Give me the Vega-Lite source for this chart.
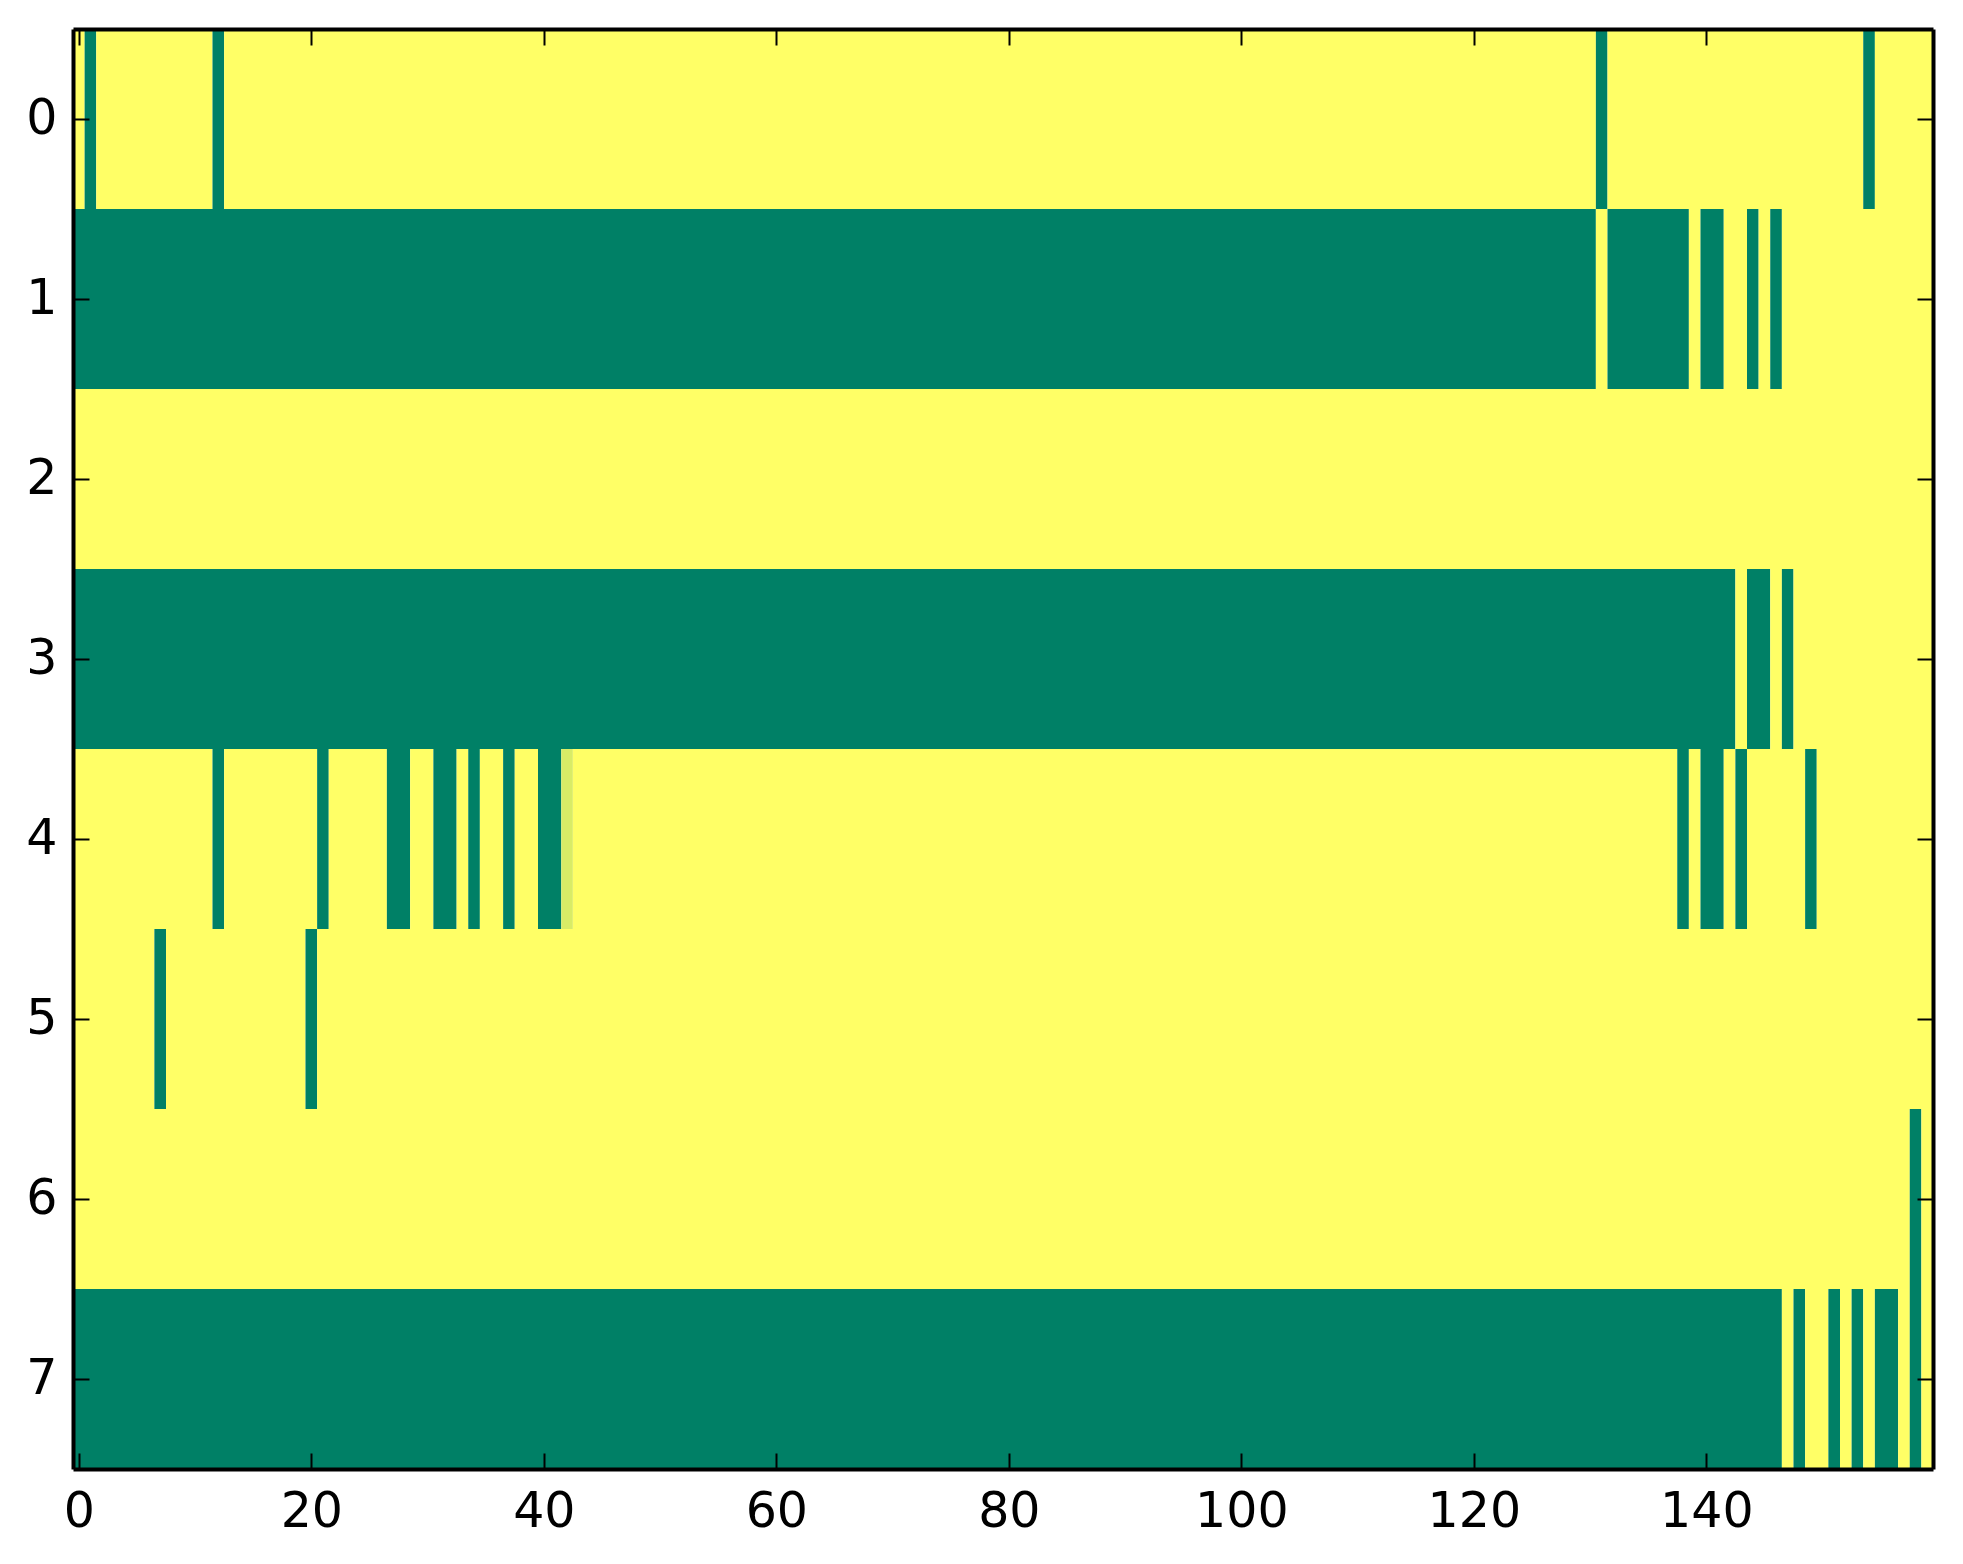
{
  "$schema": "https://vega.github.io/schema/vega-lite/v6.json",
  "width": 1860,
  "height": 1440,
  "autosize": {"type": "none"},
  "padding": {"left": 73, "top": 29, "right": 30, "bottom": 95},
  "background": "white",
  "config": {
    "view": {"stroke": null},
    "axis": {
      "labelFont": "DejaVu Sans",
      "labelFontSize": 49,
      "labelColor": "black",
      "tickColor": "black",
      "tickWidth": 2,
      "tickSize": -16,
      "domainColor": "black",
      "domainWidth": 4,
      "grid": false,
      "title": null
    }
  },
  "data": {
    "values": [
      {"r": 0, "a": -0.5, "b": 0.5, "v": 1},
      {"r": 0, "a": 0.5, "b": 1.5, "v": 0},
      {"r": 0, "a": 1.5, "b": 11.5, "v": 1},
      {"r": 0, "a": 11.5, "b": 12.5, "v": 0},
      {"r": 0, "a": 12.5, "b": 130.5, "v": 1},
      {"r": 0, "a": 130.5, "b": 131.5, "v": 0},
      {"r": 0, "a": 131.5, "b": 153.5, "v": 1},
      {"r": 0, "a": 153.5, "b": 154.5, "v": 0},
      {"r": 0, "a": 154.5, "b": 159.5, "v": 1},

      {"r": 1, "a": -0.5, "b": 130.5, "v": 0},
      {"r": 1, "a": 130.5, "b": 131.5, "v": 1},
      {"r": 1, "a": 131.5, "b": 138.5, "v": 0},
      {"r": 1, "a": 138.5, "b": 139.5, "v": 1},
      {"r": 1, "a": 139.5, "b": 141.5, "v": 0},
      {"r": 1, "a": 141.5, "b": 143.5, "v": 1},
      {"r": 1, "a": 143.5, "b": 144.5, "v": 0},
      {"r": 1, "a": 144.5, "b": 145.5, "v": 1},
      {"r": 1, "a": 145.5, "b": 146.5, "v": 0},
      {"r": 1, "a": 146.5, "b": 159.5, "v": 1},

      {"r": 2, "a": -0.5, "b": 159.5, "v": 1},

      {"r": 3, "a": -0.5, "b": 142.5, "v": 0},
      {"r": 3, "a": 142.5, "b": 143.5, "v": 1},
      {"r": 3, "a": 143.5, "b": 145.5, "v": 0},
      {"r": 3, "a": 145.5, "b": 146.5, "v": 1},
      {"r": 3, "a": 146.5, "b": 147.5, "v": 0},
      {"r": 3, "a": 147.5, "b": 159.5, "v": 1},

      {"r": 4, "a": -0.5, "b": 11.5, "v": 1},
      {"r": 4, "a": 11.5, "b": 12.5, "v": 0},
      {"r": 4, "a": 12.5, "b": 20.5, "v": 1},
      {"r": 4, "a": 20.5, "b": 21.5, "v": 0},
      {"r": 4, "a": 21.5, "b": 26.5, "v": 1},
      {"r": 4, "a": 26.5, "b": 28.5, "v": 0},
      {"r": 4, "a": 28.5, "b": 30.5, "v": 1},
      {"r": 4, "a": 30.5, "b": 32.5, "v": 0},
      {"r": 4, "a": 32.5, "b": 33.5, "v": 1},
      {"r": 4, "a": 33.5, "b": 34.5, "v": 0},
      {"r": 4, "a": 34.5, "b": 36.5, "v": 1},
      {"r": 4, "a": 36.5, "b": 37.5, "v": 0},
      {"r": 4, "a": 37.5, "b": 39.5, "v": 1},
      {"r": 4, "a": 39.5, "b": 41.5, "v": 0},
      {"r": 4, "a": 41.5, "b": 42.5, "v": 0.85},
      {"r": 4, "a": 42.5, "b": 137.5, "v": 1},
      {"r": 4, "a": 137.5, "b": 138.5, "v": 0},
      {"r": 4, "a": 138.5, "b": 139.5, "v": 1},
      {"r": 4, "a": 139.5, "b": 141.5, "v": 0},
      {"r": 4, "a": 141.5, "b": 142.5, "v": 1},
      {"r": 4, "a": 142.5, "b": 143.5, "v": 0},
      {"r": 4, "a": 143.5, "b": 148.5, "v": 1},
      {"r": 4, "a": 148.5, "b": 149.5, "v": 0},
      {"r": 4, "a": 149.5, "b": 159.5, "v": 1},

      {"r": 5, "a": -0.5, "b": 6.5, "v": 1},
      {"r": 5, "a": 6.5, "b": 7.5, "v": 0},
      {"r": 5, "a": 7.5, "b": 19.5, "v": 1},
      {"r": 5, "a": 19.5, "b": 20.5, "v": 0},
      {"r": 5, "a": 20.5, "b": 159.5, "v": 1},

      {"r": 6, "a": -0.5, "b": 157.5, "v": 1},
      {"r": 6, "a": 157.5, "b": 158.5, "v": 0},
      {"r": 6, "a": 158.5, "b": 159.5, "v": 1},

      {"r": 7, "a": -0.5, "b": 146.5, "v": 0},
      {"r": 7, "a": 146.5, "b": 147.5, "v": 1},
      {"r": 7, "a": 147.5, "b": 148.5, "v": 0},
      {"r": 7, "a": 148.5, "b": 150.5, "v": 1},
      {"r": 7, "a": 150.5, "b": 151.5, "v": 0},
      {"r": 7, "a": 151.5, "b": 152.5, "v": 1},
      {"r": 7, "a": 152.5, "b": 153.5, "v": 0},
      {"r": 7, "a": 153.5, "b": 154.5, "v": 1},
      {"r": 7, "a": 154.5, "b": 156.5, "v": 0},
      {"r": 7, "a": 156.5, "b": 157.5, "v": 1},
      {"r": 7, "a": 157.5, "b": 158.5, "v": 0},
      {"r": 7, "a": 158.5, "b": 159.5, "v": 1}
    ]
  },
  "layer": [
    {
      "mark": {"type": "rect", "strokeWidth": 0},
      "encoding": {
        "x": {
          "field": "a", "type": "quantitative",
          "scale": {"domain": [-0.5, 159.5], "nice": false, "zero": false},
          "axis": {"orient": "bottom", "zindex": 2, "domainWidth": 4, "values": [0, 20, 40, 60, 80, 100, 120, 140], "format": "d", "labelPadding": 34, "labelFlush": false, "labelOverlap": false}
        },
        "x2": {"field": "b"},
        "y": {
          "field": "r", "type": "ordinal",
          "scale": {"paddingInner": 0, "paddingOuter": 0},
          "axis": {"orient": "left", "zindex": 2, "domainWidth": 4, "labelPadding": 32, "labelAngle": 0}
        },
        "color": {
          "field": "v", "type": "quantitative",
          "scale": {"domain": [0, 1], "range": ["#008066", "#ffff66"], "interpolate": "rgb"},
          "legend": null
        }
      }
    },
    {
      "mark": {"type": "rect", "opacity": 0},
      "encoding": {
        "x": {
          "field": "a", "type": "quantitative",
          "scale": {"domain": [-0.5, 159.5], "nice": false, "zero": false},
          "axis": {"orient": "top", "zindex": 2, "domainWidth": 4, "values": [0, 20, 40, 60, 80, 100, 120, 140], "labels": false}
        },
        "x2": {"field": "b"},
        "y": {
          "field": "r", "type": "ordinal",
          "scale": {"paddingInner": 0, "paddingOuter": 0},
          "axis": {"orient": "right", "zindex": 2, "domainWidth": 4, "labels": false}
        }
      }
    }
  ],
  "resolve": {"axis": {"x": "independent", "y": "independent"}}
}
